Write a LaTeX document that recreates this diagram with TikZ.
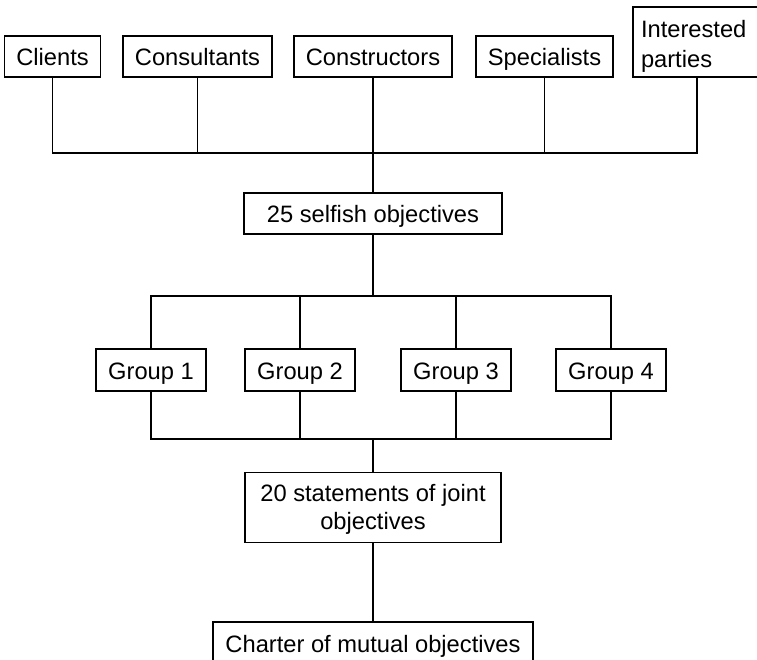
\documentclass[tikz,border=0pt]{standalone}
\usepackage{fontspec}
\setmainfont{Liberation Sans}
\usepackage{tikz}
\usetikzlibrary{positioning,calc}
\newcommand\hstrut[2]{\rule[-#2]{0pt}{#1}}
\tikzset{
  box/.style={draw=black, line width=0.7pt, fill=white, align=center, inner xsep=6pt, inner ysep=0pt, font=\fontsize{11.85}{14.5}\selectfont},
  linebox/.style={box, text height=14.5pt, text depth=6pt},
  groupbox/.style={box, minimum width=55pt, text height=15pt, text depth=6pt},
  wire/.style={draw=black, line width=0.7pt}
}
\begin{document}
\begin{tikzpicture}[x=0.5pt, y=-0.5pt]
\useasboundingbox (0,0) rectangle (757,660);
\node[linebox] (clients) at (52.5,56.5) {Clients};
\node[linebox] (consultants) at (197.5,56.5) {Consultants};
\node[linebox] (constructors) at (373,56.5) {Constructors};
\node[linebox] (specialists) at (544.5,56.5) {Specialists};
\node[box, align=left, text width=56pt, inner xsep=4pt, font=\fontsize{11.85}{15}\selectfont] (parties) at (697,42) {\hstrut{15pt}{0pt}Interested\\\hstrut{0pt}{5pt}parties};
\node[linebox, minimum width=129pt] (selfish) at (373,213.5) {25 selfish objectives};
\node[groupbox] (group1) at (151,370) {Group 1};
\node[groupbox] (group2) at (300,370) {Group 2};
\node[groupbox] (group3) at (456,370) {Group 3};
\node[groupbox] (group4) at (611,370) {Group 4};
\node[box, minimum width=128pt, font=\fontsize{11.85}{14}\selectfont] (joint) at (373,507.5) {\hstrut{14.5pt}{0pt}20 statements of joint\\\hstrut{0pt}{6.5pt}objectives};
\node[box, minimum width=160pt, text height=15pt, text depth=6pt] (charter) at (373,643) {Charter of mutual objectives};
% bus points
\coordinate (topbus) at (373,153);
\coordinate (upbus) at (373,296);
\coordinate (lowbus) at (373,439);
% parties to selfish objectives
\draw[wire] (clients.south) |- (topbus) -| (parties.south);
\draw[wire] (consultants.south) -- (consultants.south |- topbus);
\draw[wire] (specialists.south) -- (specialists.south |- topbus);
\draw[wire] (constructors.south) -- (selfish.north);
% selfish objectives to groups
\draw[wire] (selfish.south) -- (upbus);
\draw[wire] (group1.north) |- (upbus) -| (group4.north);
\draw[wire] (group2.north) -- (group2.north |- upbus);
\draw[wire] (group3.north) -- (group3.north |- upbus);
% groups to joint objectives
\draw[wire] (group1.south) |- (lowbus) -| (group4.south);
\draw[wire] (group2.south) -- (group2.south |- lowbus);
\draw[wire] (group3.south) -- (group3.south |- lowbus);
\draw[wire] (lowbus) -- (joint.north);
\draw[wire] (joint.south) -- (charter.north);
\end{tikzpicture}
\end{document}
